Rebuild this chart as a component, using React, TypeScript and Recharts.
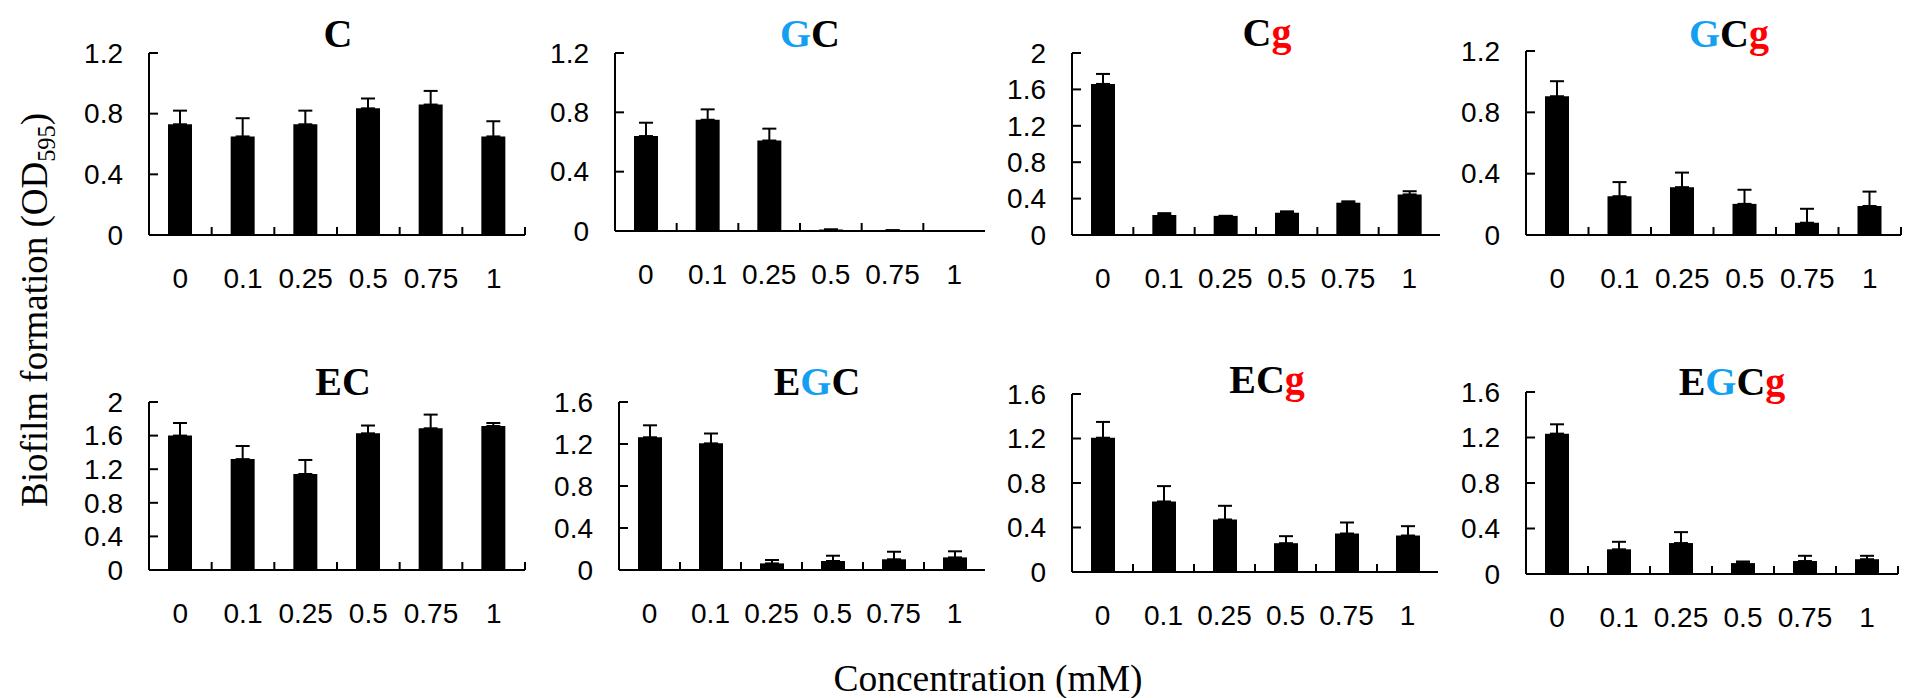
import React from 'react'
import { BarChart, Bar, XAxis, YAxis, ErrorBar } from 'recharts'

// concentration (mM) categories shared by every panel
const concentrations = ['0', '0.1', '0.25', '0.5', '0.75', '1']

// mean biofilm formation (OD595) and upper error per compound
const cValues = [0.73, 0.65, 0.73, 0.835, 0.86, 0.65]
const cErrors = [0.09, 0.12, 0.09, 0.065, 0.09, 0.1]

const gcValues = [0.64, 0.75, 0.61, 0.01, 0.005, 0]
const gcErrors = [0.09, 0.07, 0.08, 0, 0, 0]

const cgValues = [1.66, 0.22, 0.21, 0.245, 0.355, 0.446]
const cgErrors = [0.11, 0.02, 0, 0.015, 0.015, 0.035]

const gcgValues = [0.905, 0.253, 0.312, 0.203, 0.08, 0.189]
const gcgErrors = [0.098, 0.092, 0.095, 0.092, 0.091, 0.094]

const ecValues = [1.6, 1.32, 1.143, 1.627, 1.687, 1.714]
const ecErrors = [0.15, 0.156, 0.167, 0.093, 0.163, 0.036]

const egcValues = [1.264, 1.206, 0.063, 0.086, 0.102, 0.12]
const egcErrors = [0.114, 0.094, 0.032, 0.05, 0.072, 0.058]

const ecgValues = [1.207, 0.634, 0.472, 0.259, 0.346, 0.328]
const ecgErrors = [0.142, 0.138, 0.123, 0.063, 0.099, 0.084]

const egcgValues = [1.234, 0.217, 0.272, 0.096, 0.114, 0.13]
const egcgErrors = [0.082, 0.066, 0.096, 0.014, 0.046, 0.03]

const ticks12 = [0, 0.4, 0.8, 1.2]
const ticks16 = [0, 0.4, 0.8, 1.2, 1.6]
const ticks20 = [0, 0.4, 0.8, 1.2, 1.6, 2]

const panels = [
  { title: 'C', values: cValues, errors: cErrors, yMax: 1.2, ticks: ticks12 },
  { title: 'GC', values: gcValues, errors: gcErrors, yMax: 1.2, ticks: ticks12 },
  { title: 'Cg', values: cgValues, errors: cgErrors, yMax: 2, ticks: ticks20 },
  { title: 'GCg', values: gcgValues, errors: gcgErrors, yMax: 1.2, ticks: ticks12 },
  { title: 'EC', values: ecValues, errors: ecErrors, yMax: 2, ticks: ticks20 },
  { title: 'EGC', values: egcValues, errors: egcErrors, yMax: 1.6, ticks: ticks16 },
  { title: 'ECg', values: ecgValues, errors: ecgErrors, yMax: 1.6, ticks: ticks16 },
  { title: 'EGCg', values: egcgValues, errors: egcgErrors, yMax: 1.6, ticks: ticks16 },
]

// plot boxes in page pixels: left, right, top (max tick), bottom (zero line)
const layouts = [
  { pl: 149, pr: 525, pt: 53, pb: 235, endTick: true, tx: 338, ty: 47 },
  { pl: 615, pr: 985, pt: 53, pb: 231, endTick: false, tx: 810, ty: 47 },
  { pl: 1072, pr: 1440, pt: 53, pb: 235, endTick: false, tx: 1267, ty: 46 },
  { pl: 1526, pr: 1901, pt: 51, pb: 235, endTick: true, tx: 1729, ty: 47 },
  { pl: 149, pr: 525, pt: 402, pb: 570, endTick: true, tx: 343, ty: 395 },
  { pl: 619, pr: 985, pt: 402, pb: 570, endTick: false, tx: 817, ty: 395 },
  { pl: 1072, pr: 1438, pt: 394, pb: 572, endTick: false, tx: 1267, ty: 393 },
  { pl: 1526, pr: 1898, pt: 392, pb: 574, endTick: true, tx: 1732, ty: 395 },
]

const SANS = '"Liberation Sans", Arial, sans-serif'
const SERIF = '"Liberation Serif", "Times New Roman", serif'
const Y_AXIS_W = 70
const X_AXIS_H = 60
const TOP_PAD = 25
const X_LABEL_GAP = 43
const Y_LABEL_GAP = 26

const letterColor = (ch: string) => (ch === 'G' ? '#139ff2' : ch === 'g' ? '#ff0000' : '#000')

function XTick(props: any) {
  const { x, y, payload, index, band, endTick } = props
  const axisY = y - X_LABEL_GAP
  const showLine = index < concentrations.length - 1 || endTick
  return (
    <g>
      {showLine && (
        <line x1={x + band / 2} x2={x + band / 2} y1={axisY} y2={axisY - 8} stroke="#000" strokeWidth={2} />
      )}
      <text x={x} y={y} dy="0.35em" textAnchor="middle" fontSize={28} fontFamily={SANS} fill="#000">
        {payload.value}
      </text>
    </g>
  )
}

function YTick(props: any) {
  const { x, y, payload } = props
  const axisX = x + Y_LABEL_GAP
  return (
    <g>
      <line x1={axisX} x2={axisX + 9} y1={y} y2={y} stroke="#000" strokeWidth={2} />
      <text x={x} y={y} dy="0.35em" textAnchor="end" fontSize={28} fontFamily={SANS} fill="#000">
        {payload.value}
      </text>
    </g>
  )
}

function Panel({ idx }: { idx: number }) {
  const p = panels[idx]
  const l = layouts[idx]
  const data = concentrations.map((c, i) => ({
    conc: c,
    value: p.values[i],
    err: [0, p.errors[i]],
  }))
  const band = (l.pr - l.pl) / concentrations.length
  const width = Y_AXIS_W + (l.pr - l.pl) + 4
  const height = TOP_PAD + (l.pb - l.pt) + X_AXIS_H
  return (
    <div style={{ position: 'absolute', left: l.pl - Y_AXIS_W, top: l.pt - TOP_PAD }}>
      <BarChart width={width} height={height} data={data} margin={{ top: TOP_PAD, right: 4, bottom: 0, left: 0 }}>
        <XAxis
          dataKey="conc"
          height={X_AXIS_H}
          interval={0}
          tickSize={0}
          tickMargin={X_LABEL_GAP}
          tickLine={false}
          axisLine={{ stroke: '#000', strokeWidth: 2 }}
          tick={(tp: any) => <XTick {...tp} band={band} endTick={l.endTick} />}
        />
        <YAxis
          type="number"
          width={Y_AXIS_W}
          domain={[0, p.yMax]}
          ticks={p.ticks}
          tickSize={0}
          tickMargin={Y_LABEL_GAP}
          tickLine={false}
          axisLine={{ stroke: '#000', strokeWidth: 2 }}
          tick={(tp: any) => <YTick {...tp} />}
        />
        <Bar dataKey="value" fill="#000" barSize={24} isAnimationActive={false}>
          <ErrorBar dataKey="err" direction="y" width={7} stroke="#000" strokeWidth={2} />
        </Bar>
      </BarChart>
    </div>
  )
}

export default function App() {
  return (
    <div
      style={{
        position: 'absolute',
        left: 0,
        top: 0,
        width: 1905,
        height: 698,
        background: '#fff',
        overflow: 'hidden',
      }}
    >
      {panels.map((_, i) => (
        <Panel key={i} idx={i} />
      ))}
      <svg width={1905} height={698} style={{ position: 'absolute', left: 0, top: 0, pointerEvents: 'none' }}>
        {panels.map((p, i) => (
          <text
            key={p.title}
            x={layouts[i].tx}
            y={layouts[i].ty}
            textAnchor="middle"
            fontSize={40}
            fontWeight="bold"
            fontFamily={SERIF}
          >
            {p.title.split('').map((ch, k) => (
              <tspan key={k} fill={letterColor(ch)}>
                {ch}
              </tspan>
            ))}
          </text>
        ))}
        <text
          transform="translate(47, 310) rotate(-90)"
          textAnchor="middle"
          fontSize={38}
          fontFamily={SERIF}
          fill="#000"
          textLength={394}
          lengthAdjust="spacingAndGlyphs"
        >
          Biofilm formation (OD
          <tspan fontSize={25} dy={8}>
            595
          </tspan>
          <tspan dy={-8}>)</tspan>
        </text>
        <text
          x={988}
          y={691}
          textAnchor="middle"
          fontSize={37}
          fontFamily={SERIF}
          fill="#000"
          textLength={309}
          lengthAdjust="spacingAndGlyphs"
        >
          Concentration (mM)
        </text>
      </svg>
    </div>
  )
}
